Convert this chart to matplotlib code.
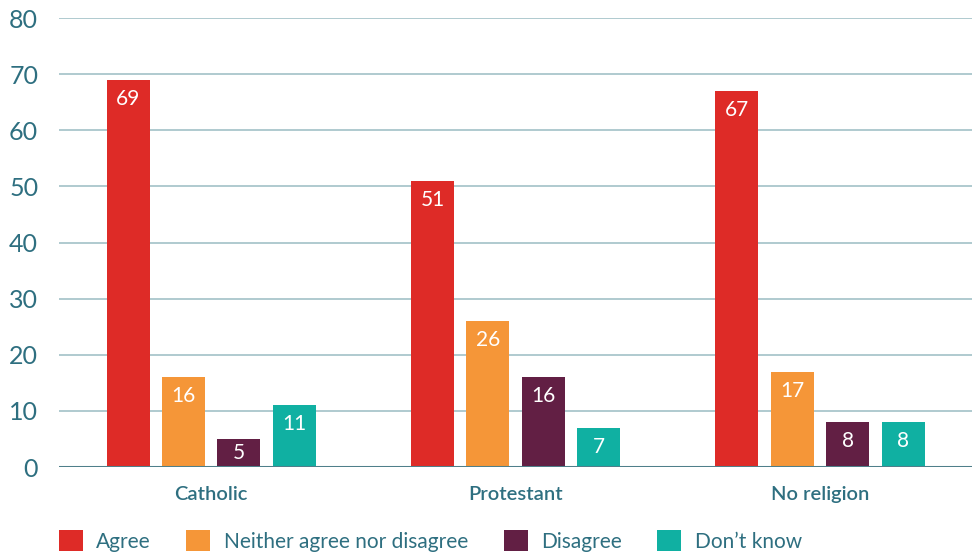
import matplotlib.pyplot as plt
import numpy as np

plt.rcParams['font.family'] = ['Lato', 'DejaVu Sans']

religions = ["Catholic", "Protestant", "No religion"]
responses = ["Agree", "Neither agree nor disagree", "Disagree", "Don\u2019t know"]
agree = [69, 51, 67]
neither = [16, 26, 17]
disagree = [5, 16, 8]
dont_know = [11, 7, 8]
colors = ["#de2b27", "#f59638", "#621f44", "#10b0a2"]

text_col = "#2e6f80"
series = [agree, neither, disagree, dont_know]

fig = plt.figure(figsize=(9.79, 5.54), dpi=100)
ax = fig.add_axes([0.0603, 0.157, 0.9327, 0.8105])

x = np.arange(len(religions))
width = 0.141
step = 0.182
for i, (vals, col) in enumerate(zip(series, colors)):
    pos = x + (i - 1.5) * step
    bars = ax.bar(pos, vals, width, color=col, label=responses[i], zorder=3)
    for b, v in zip(bars, vals):
        # label sits a little below the bar top, or mid-bar for short bars
        ax.text(b.get_x() + b.get_width() / 2, max(v - 3.4, v / 2), str(v),
                ha="center", va="center", color="white", fontsize=15,
                zorder=4)

ax.set_xlim(-0.5, 2.5)
ax.set_ylim(0, 80)
ax.set_yticks(range(0, 81, 10))
ax.grid(axis="y", color="#a9c6cc", linewidth=1.3, zorder=0)
ax.axhline(0, color="#4f7f8a", linewidth=2.2, zorder=5)
for s in ax.spines.values():
    s.set_visible(False)
ax.tick_params(axis="y", length=0, pad=15, labelsize=18, labelcolor=text_col)
ax.tick_params(axis="x", length=0, pad=14, labelsize=14.5, labelcolor=text_col)
ax.set_xticks(x)
ax.set_xticklabels(religions, fontweight="semibold")

fig.legend(loc="lower left", bbox_to_anchor=(0.041, -0.03), ncol=4,
           frameon=False, fontsize=15, labelcolor=text_col,
           handlelength=1.15, handleheight=1.15, handletextpad=0.65,
           columnspacing=1.7)

plt.savefig("out.png", dpi=100)
